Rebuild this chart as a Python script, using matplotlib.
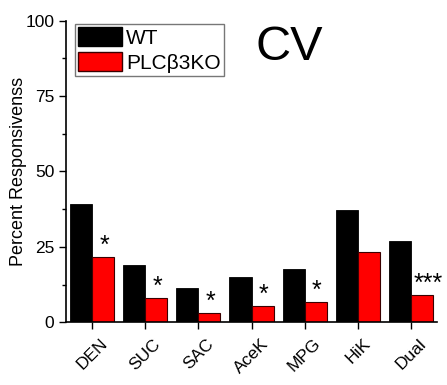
import matplotlib
matplotlib.use("Agg")
import matplotlib.pyplot as plt
from matplotlib.patches import Patch
import numpy as np

plt.rcParams['font.family'] = ['Liberation Sans', 'DejaVu Sans']

categories = ["DEN", "SUC", "SAC", "AceK", "MPG", "HiK", "Dual"]
wt = [39.1, 18.9, 11.3, 15.0, 17.6, 37.2, 26.8]
ko = [21.7, 8.0, 3.2, 5.5, 6.7, 23.3, 9.0]
stars = ["*", "*", "*", "*", "*", "", "***"]
yticks = [0, 25, 50, 75, 100]

fig = plt.figure(figsize=(4.47, 3.85), dpi=100)
ax = fig.add_axes([0.1477, 0.1629, 0.8299, 0.7833])

x = np.arange(len(categories))
w = 0.415
ax.bar(x - w / 2, wt, width=w, color="black", edgecolor="black", linewidth=0.6)
ax.bar(x + w / 2, ko, width=w, color="#ff0000", edgecolor="#3a0000", linewidth=0.8)

for xi, v, s in zip(x, ko, stars):
    if s:
        ax.text(xi + w / 2 + (0.11 if len(s) > 1 else 0.02), v + 1.3, s,
                ha="center", va="baseline", fontsize=18)

ax.set_xlim(-0.49, 6.49)
ax.set_ylim(0, 100)
ax.set_yticks(yticks)
ax.set_yticks([12.5, 37.5, 62.5, 87.5], minor=True)
ax.set_xticks(x)
ax.set_xticklabels(categories, rotation=45, ha="center", fontsize=12.5)
ax.tick_params(axis="y", labelsize=12.5, length=5, width=1, direction="out")
ax.tick_params(axis="y", which="minor", length=3, width=1)
ax.tick_params(axis="x", length=5, width=1, direction="out", pad=5)
ax.spines["top"].set_visible(False)
ax.spines["right"].set_visible(False)
ax.spines["left"].set_linewidth(1.2)
ax.spines["bottom"].set_linewidth(1.2)
ax.set_ylabel("Percent Responsivenss", fontsize=13)
ax.yaxis.set_label_coords(-0.105, 0.5)

handles = [Patch(facecolor="black", edgecolor="black", label="WT"),
           Patch(facecolor="#ff0000", edgecolor="#3a0000", label="PLC\u03b23KO")]
leg = ax.legend(handles=handles, loc="upper left", bbox_to_anchor=(75 / 447, 1 - 24 / 385),
                bbox_transform=fig.transFigure, fontsize=15, frameon=True, fancybox=False,
                handlelength=2.1, handleheight=1.05, labelspacing=0.2, handletextpad=0.2,
                borderpad=0.15, borderaxespad=0)
leg.get_frame().set_edgecolor("#555555")
leg.get_frame().set_linewidth(1.0)

fig.text(289 / 447, 1 - 47 / 385, "CV", fontsize=35, ha="center", va="center")

fig.savefig("out.png", dpi=100)
